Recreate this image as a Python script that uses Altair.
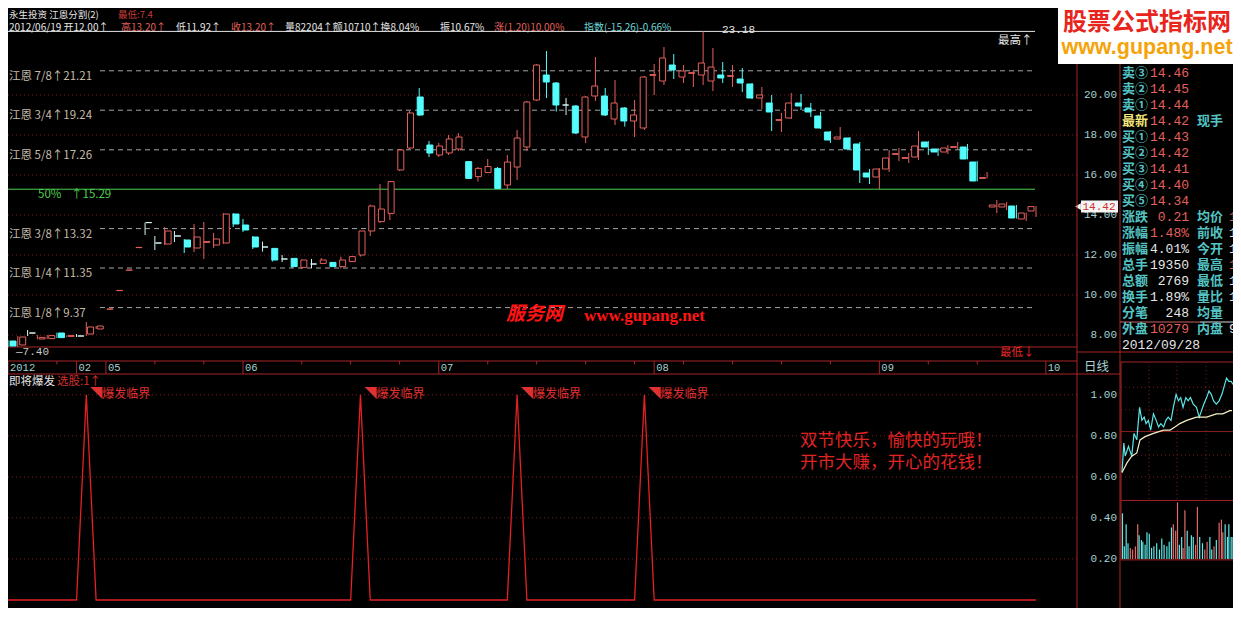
import altair as alt
import pandas as pd

# ---------------- data ----------------
OPEN = [7.70, 7.50, 8.10, 7.80, 7.82, 8.10, 7.93, 7.95, 8.05, 8.30,
        9.29, 10.22, 11.24, 12.37, 13.62, 12.60, 12.55, 12.95, 12.75, 12.35,
        12.63, 12.50, 12.60, 14.05, 13.50, 12.90, 12.40, 12.33, 11.80, 11.83,
        11.38, 11.55, 11.58, 11.63, 11.42, 11.67, 12.00, 13.20, 13.67, 14.08,
        16.25, 17.35, 19.90, 17.50, 17.00, 17.10, 17.30, 16.67, 15.92, 16.12,
        16.33, 15.50, 16.40, 17.40, 19.75, 21.00, 20.60, 19.50, 19.45, 17.90,
        19.95, 19.95, 18.80, 19.35, 18.70, 18.35, 20.98, 20.70, 21.50, 20.90,
        21.08, 21.00, 20.70, 21.00, 20.93, 20.80, 20.55, 19.85, 19.60, 18.73,
        18.85, 19.60, 19.35, 18.95, 18.15, 17.80, 17.85, 17.55, 16.10, 15.90,
        16.30, 17.03, 16.83, 16.90, 17.65, 17.30, 17.15, 17.38, 17.40, 16.65,
        15.83, 14.40, 14.40, 14.45, 13.80, 14.20]
HIGH = [7.75, 7.95, 8.25, 8.00, 8.00, 8.12, 7.98, 8.05, 8.65, 8.45,
        9.30, 10.23, 11.25, 12.38, 13.62, 12.95, 13.40, 13.20, 12.80, 13.55,
        13.65, 13.10, 14.10, 14.10, 13.80, 12.95, 12.67, 12.35, 12.00, 11.85,
        11.78, 11.80, 11.85, 11.65, 11.92, 11.95, 13.20, 14.52, 15.55, 15.70,
        17.30, 19.20, 20.35, 17.70, 17.60, 18.00, 18.10, 16.70, 16.40, 16.80,
        16.40, 17.00, 18.25, 19.70, 21.55, 22.20, 20.65, 19.85, 19.50, 19.95,
        21.90, 20.35, 20.75, 19.40, 19.75, 20.95, 21.55, 22.40, 22.05, 21.50,
        21.25, 23.18, 22.35, 21.65, 21.50, 21.35, 20.60, 20.40, 20.00, 19.10,
        20.10, 20.05, 19.60, 19.15, 18.20, 18.40, 17.90, 17.65, 16.30, 16.35,
        17.25, 17.35, 17.10, 18.20, 17.70, 17.35, 17.50, 17.65, 17.55, 16.70,
        16.15, 14.75, 14.65, 14.50, 14.12, 14.45]
LOW = [7.40, 7.40, 7.95, 7.78, 7.80, 7.85, 7.90, 7.90, 7.95, 8.30,
       9.29, 10.22, 11.24, 12.37, 13.00, 12.25, 12.50, 12.65, 12.10, 12.15,
       11.80, 12.35, 12.55, 13.40, 13.15, 12.30, 12.17, 11.67, 11.65, 11.35,
       11.30, 11.35, 11.55, 11.40, 11.33, 11.65, 11.92, 12.95, 13.60, 13.75,
       16.20, 17.30, 18.95, 16.90, 16.90, 17.00, 17.20, 15.80, 15.67, 16.10,
       15.30, 15.30, 15.75, 17.20, 19.70, 19.85, 19.17, 19.00, 18.05, 17.60,
       19.70, 18.95, 18.50, 18.42, 17.90, 18.25, 20.00, 20.50, 20.80, 20.60,
       20.40, 20.50, 20.20, 20.60, 20.40, 20.15, 19.80, 19.30, 18.20, 18.15,
       18.80, 19.25, 18.90, 18.30, 17.60, 17.78, 17.25, 15.60, 15.55, 15.30,
       16.15, 16.70, 16.60, 16.75, 17.00, 16.95, 17.05, 17.25, 16.78, 15.68,
       15.83, 14.10, 14.25, 13.82, 13.70, 13.90]
CLOSE = [7.45, 7.90, 8.10, 7.88, 7.97, 7.87, 7.97, 7.95, 8.40, 8.45,
         9.30, 10.23, 11.25, 12.38, 13.62, 12.60, 13.20, 12.95, 12.40, 12.90,
         12.67, 12.80, 14.05, 13.55, 13.25, 12.40, 12.40, 11.75, 11.80, 11.42,
         11.75, 11.55, 11.75, 11.42, 11.75, 11.92, 13.20, 14.45, 14.30, 15.67,
         17.25, 19.10, 19.00, 17.10, 17.45, 17.80, 17.90, 15.83, 16.33, 16.42,
         15.33, 16.65, 17.85, 19.65, 21.50, 20.65, 19.50, 19.50, 18.10, 19.90,
         20.45, 19.00, 19.60, 18.70, 19.00, 20.90, 21.02, 21.85, 21.25, 21.20,
         21.12, 21.60, 21.40, 20.85, 20.97, 20.60, 19.85, 20.00, 19.15, 18.77,
         19.60, 19.45, 19.15, 18.35, 17.75, 17.90, 17.30, 16.25, 15.90, 16.30,
         16.85, 17.07, 16.87, 17.45, 17.40, 17.15, 17.35, 17.42, 16.80, 15.70,
         15.87, 14.50, 14.55, 13.85, 14.10, 14.42]

GRID_PRICES = [8, 10, 12, 14, 16, 18, 20]
GANN_FRAC = ["7/8", "3/4", "5/8", "3/8", "1/4", "1/8"]
GANN_PRICE = [21.21, 19.24, 17.26, 13.32, 11.35, 9.37]
HALF_PRICE = 15.29
TOP_PRICE = 23.18
LOW_PRICE = 7.40
LAST_PRICE = 14.42

MONTH_IDX = [0, 7, 10, 24, 44, 66, 89, 106]
MONTH_LAB = ["2012", "02", "05", "06", "07", "08", "09", "10"]
MINOR_IDX = [5, 15, 20, 30, 35, 40, 49, 54, 59, 64, 69, 74, 79, 84, 94, 99]

PEAK_IDX = [8, 36, 52, 65]
IND_TICKS = [0.2, 0.4, 0.6, 0.8, 1.0]

INFO_L1 = ["卖③", "卖②", "卖①", "最新", "买①", "买②", "买③", "买④", "买⑤",
           "涨跌", "涨幅", "振幅", "总手", "总额", "换手", "分笔", "外盘"]
INFO_V1 = ["14.46", "14.45", "14.44", "14.42", "14.43", "14.42", "14.41", "14.40", "14.34",
           "0.21", "1.48%", "4.01%", "19350", "2769", "1.89%", "248", "10279"]
INFO_V1_SIGN = ["up"] * 11 + ["flat"] * 5 + ["up"]
INFO_L2 = ["", "", "", "现手", "", "", "", "", "", "均价", "前收", "今开", "最高", "最低", "量比", "均量", "内盘"]
INFO_V2 = ["", "", "", "", "", "", "", "", "", "14.37", "14.21", "14.25", "14.50", "13.98", "1.02", "", "9071"]
INFO_V2_SIGN = ["flat"] * 9 + ["up", "flat", "flat", "up", "flat", "flat", "flat", "flat"]
INFO_DATE = "2012/09/28"

MINI_T = [0, 4, 7, 14, 21, 26, 32, 38, 43, 48, 52, 57, 62, 68, 74, 79, 84, 90, 95, 100,
          106, 111, 117, 122, 127, 132, 138, 143, 148, 154, 161, 167, 172, 177, 183, 188,
          193, 198, 204, 210, 216, 220, 226, 231, 236, 240]
MINI_P = [14.21, 14.30, 14.26, 14.29, 14.26, 14.33, 14.31, 14.41, 14.37, 14.38,
          14.36, 14.37, 14.34, 14.39, 14.37, 14.35, 14.36, 14.35, 14.37, 14.38,
          14.37, 14.41, 14.45, 14.43, 14.44, 14.41, 14.44, 14.43, 14.44, 14.42,
          14.41, 14.38, 14.40, 14.42, 14.44, 14.46, 14.45, 14.43, 14.42, 14.43,
          14.45, 14.47, 14.50, 14.49, 14.49, 14.48]
AVG_T = [0, 11, 21, 32, 39, 50, 68, 90, 104, 115, 125, 140, 161, 183, 204, 218, 233, 238]
AVG_P = [14.21, 14.24, 14.26, 14.27, 14.31, 14.32, 14.33, 14.34, 14.34, 14.35,
         14.36, 14.37, 14.38, 14.38, 14.39, 14.39, 14.40, 14.40]
VOL_T = [1, 5, 9, 13, 18, 23, 29, 34, 37, 42, 45, 50, 54, 59, 64, 69, 75, 81, 86, 91,
         97, 102, 107, 111, 116, 120, 124, 129, 132, 136, 141, 145, 150, 154, 159, 163,
         168, 174, 179, 184, 190, 194, 199, 204, 210, 215, 218, 223, 228, 231, 236, 240]
VOL_V = [145, 40, 110, 50, 35, 30, 40, 110, 75, 60, 55, 45, 85, 80, 35, 40, 50, 30, 65, 45,
         40, 55, 100, 110, 90, 180, 45, 70, 35, 155, 90, 40, 75, 70, 45, 165, 70, 50, 30, 55,
         70, 30, 40, 60, 115, 125, 85, 110, 70, 110, 70, 70]
VOL_DIR = ["down"] * 4 + ["up"] * 4 + ["down"] * 15 + ["up"] * 3 + ["down"] * 2 + ["up"] * 2 + \
          ["down"] * 4 + ["up"] * 2 + ["down"] * 2 + ["up"] * 2 + ["down"] * 2 + ["up"] + ["down"] + \
          ["up"] * 3 + ["down"] * 5

# ---------------- layout helpers ----------------
W, H = 1225, 600
SPLIT_Y = 374.0


def px(X):
    return X - 8


def py(Y):
    # main area kept 1:1; lower panel squeezed slightly so everything fits the window
    if Y <= SPLIT_Y:
        return Y - 8
    return (SPLIT_Y - 8) + (Y - SPLIT_Y) * (H - (SPLIT_Y - 8)) / (622.0 - SPLIT_Y)


BG = "#000000"
UP = "#e4605c"
DN = "#54fcfc"
DOJI = "#d6f4f4"
RED = "#e82828"
DKRED = "#7a1a1a"
BORDER = "#a82424"
WHITE = "#e6e6e6"
LABC = "#55c4c4"
AXT = "#a6d2d2"
GANN_T = "#c6bba8"
GANN_L = "#a6a6a6"
GREEN = "#4fcf4f"
FONT = "Noto Sans CJK SC"
MONO = "Liberation Mono, Noto Sans CJK SC"
DIRS = ["up", "down", "flat"]


def S(domain, r0, r1):
    return alt.Scale(domain=domain, range=[r0, r1], nice=False, zero=False)


def SX():
    return S([0, 105], px(8), px(1036))


def SP():
    return S([8, 20], py(335), py(95))


def SI():
    return S([0, 1], py(613.5), py(396))


def SR():
    return S([0, 17], py(73), py(345))


def SMX():
    return S([0, 240], px(1122), px(1233))


def SMP():
    return S([14.21, 14.50], py(478.3), py(378.3))


def SMV():
    return S([0, 180], py(570), py(510))


ONE = pd.DataFrame({"k": [0]})


def hrule(Y, X1, X2, color, width=1, dash=None):
    kw = dict(color=color, strokeWidth=width)
    if dash:
        kw["strokeDash"] = dash
    return alt.Chart(ONE).mark_rule(**kw).encode(
        x=alt.value(px(X1)), x2=alt.value(px(X2)), y=alt.value(py(Y)))


def vrule(X, Y1, Y2, color, width=1, dash=None):
    kw = dict(color=color, strokeWidth=width)
    if dash:
        kw["strokeDash"] = dash
    return alt.Chart(ONE).mark_rule(**kw).encode(
        x=alt.value(px(X)), y=alt.value(py(Y1)), y2=alt.value(py(Y2)))


def txt(s, X, Y, color, size=11.5, align="left", font=FONT, weight="normal", style="normal"):
    return alt.Chart(pd.DataFrame({"t": [s]})).mark_text(
        align=align, baseline="middle", color=color, fontSize=size, font=font,
        fontWeight=weight, fontStyle=style).encode(
        x=alt.value(px(X)), y=alt.value(py(Y)), text="t:N")


layers = []

# ---------------- header ----------------
layers += [
    txt("永生投资 江恩分割(2)", 9, 15, WHITE, 9.5),
    txt("最低:7.4", 118, 15, "#c83a3a", 9.5),
]
HEAD2 = [("2012/06/19 开12.00↑", WHITE, 9), ("高13.20↑", UP, 121), ("低11.92↑", WHITE, 176),
         ("收13.20↑", UP, 231), ("量82204↑额10710↑换8.04%", WHITE, 285), ("振10.67%", WHITE, 440),
         ("涨(1.20)10.00%", UP, 494), ("指数(-15.26)-0.66%", "#6cd8d8", 584)]
for s, c, X in HEAD2:
    layers.append(txt(s, X, 27.5, c, 10))

# ---------------- main panel grid / gann lines ----------------
gp = pd.DataFrame({"p": GRID_PRICES})
layers.append(alt.Chart(gp).mark_rule(color=DKRED, strokeDash=[1, 3]).encode(
    y=alt.Y("p:Q", scale=SP(), axis=None), x=alt.value(0), x2=alt.value(px(1077))))

gdf = pd.DataFrame({"p": GANN_PRICE,
                    "lab": ["江恩 %s↑%.2f" % (f, p) for f, p in zip(GANN_FRAC, GANN_PRICE)]})
layers.append(alt.Chart(gdf).mark_rule(color=GANN_L, strokeDash=[5, 4]).encode(
    y=alt.Y("p:Q", scale=SP(), axis=None), x=alt.value(px(100)), x2=alt.value(px(1035))))
layers.append(alt.Chart(gdf).mark_text(align="left", baseline="middle", dy=6, font=FONT,
                                       fontSize=11.5, color=GANN_T).encode(
    y=alt.Y("p:Q", scale=SP(), axis=None), x=alt.value(px(9)), text="lab:N"))

hdf = pd.DataFrame({"p": [HALF_PRICE], "a": ["50%"], "b": ["↑%.2f" % HALF_PRICE]})
layers.append(alt.Chart(hdf).mark_rule(color=GREEN).encode(
    y=alt.Y("p:Q", scale=SP(), axis=None), x=alt.value(px(8)), x2=alt.value(px(1035))))
layers.append(alt.Chart(hdf).mark_text(align="left", baseline="middle", dy=6, font=FONT,
                                       fontSize=11.5, color=GREEN).encode(
    y=alt.Y("p:Q", scale=SP(), axis=None), x=alt.value(px(38)), text="a:N"))
layers.append(alt.Chart(hdf).mark_text(align="left", baseline="middle", dy=6, font=FONT,
                                       fontSize=11.5, color=GREEN).encode(
    y=alt.Y("p:Q", scale=SP(), axis=None), x=alt.value(px(71)), text="b:N"))

# highest / lowest lines
tdf = pd.DataFrame({"p": [TOP_PRICE], "t": ["%.2f" % TOP_PRICE]})
layers.append(alt.Chart(tdf).mark_rule(color=WHITE).encode(
    y=alt.Y("p:Q", scale=SP(), axis=None), x=alt.value(px(8)), x2=alt.value(px(1035))))
layers.append(alt.Chart(tdf).mark_text(align="left", baseline="middle", font=MONO, fontSize=11,
                                       color=WHITE, dy=-1).encode(
    y=alt.Y("p:Q", scale=SP(), axis=None), x=alt.value(px(722)), text="t:N"))
ldf = pd.DataFrame({"p": [LOW_PRICE], "t": ["—%.2f" % LOW_PRICE]})
layers.append(alt.Chart(ldf).mark_rule(color=BORDER, strokeWidth=1.2).encode(
    y=alt.Y("p:Q", scale=SP(), axis=None), x=alt.value(0), x2=alt.value(px(1077))))
layers.append(alt.Chart(ldf).mark_text(align="left", baseline="middle", font=MONO, fontSize=11,
                                       color="#c8c8c8", dy=5).encode(
    y=alt.Y("p:Q", scale=SP(), axis=None), x=alt.value(px(16)), text="t:N"))
layers += [txt("最高↑", 998, 41, WHITE, 11.5), txt("最低↓", 1000, 353, RED, 11.5)]

# ---------------- candles ----------------
cdf = pd.DataFrame({"i": list(range(len(OPEN))), "o": OPEN, "h": HIGH, "l": LOW, "c": CLOSE})
cdf["d"] = ["up" if c > o else ("down" if c < o else "flat") for o, c in zip(OPEN, CLOSE)]
layers.append(alt.Chart(cdf).mark_rule(strokeWidth=1).encode(
    x=alt.X("i:Q", scale=SX(), axis=None),
    y=alt.Y("l:Q", scale=SP(), axis=None), y2="h:Q",
    color=alt.Color("d:N", scale=alt.Scale(domain=DIRS, range=[UP, DN, DOJI]), legend=None)))
layers.append(alt.Chart(cdf).mark_bar(size=6, strokeWidth=1).encode(
    x=alt.X("i:Q", scale=SX(), axis=None),
    y=alt.Y("o:Q", scale=SP(), axis=None), y2="c:Q",
    fill=alt.Fill("d:N", scale=alt.Scale(domain=DIRS, range=[BG, DN, BG]), legend=None),
    stroke=alt.Stroke("d:N", scale=alt.Scale(domain=DIRS, range=[UP, DN, DOJI]), legend=None)))

# centre watermark
layers += [txt("服务网", 506, 314, "#ff1414", 19, weight="bold", style="italic"),
           txt("www.gupang.net", 584, 316, "#ff1414", 17, font="Liberation Serif", weight="bold")]

# ---------------- price axis ----------------
adf = pd.DataFrame({"p": GRID_PRICES, "t": ["%.2f" % p for p in GRID_PRICES]})
layers.append(alt.Chart(adf).mark_text(align="right", baseline="middle", font=MONO, fontSize=11,
                                       color=AXT).encode(
    y=alt.Y("p:Q", scale=SP(), axis=None), x=alt.value(px(1117)), text="t:N"))
lp = pd.DataFrame({"p": [LAST_PRICE + 0.3], "p2": [LAST_PRICE - 0.3], "q": [LAST_PRICE],
                   "t": ["%.2f" % LAST_PRICE]})
layers.append(alt.Chart(lp).mark_rect(color="#f4f4f4").encode(
    y=alt.Y("p:Q", scale=SP(), axis=None), y2="p2:Q", x=alt.value(px(1081)), x2=alt.value(px(1118))))
layers.append(alt.Chart(lp).mark_point(shape="triangle-left", filled=True, color="#f4f4f4",
                                       size=45, opacity=1).encode(
    y=alt.Y("q:Q", scale=SP(), axis=None), x=alt.value(px(1078))))
layers.append(alt.Chart(lp).mark_text(align="center", baseline="middle", font=MONO, fontSize=11,
                                      color="#d03030").encode(
    y=alt.Y("q:Q", scale=SP(), axis=None), x=alt.value(px(1099)), text="t:N"))

# ---------------- date strip ----------------
layers += [hrule(361, 0, 1077, BORDER), hrule(374, 0, 1120, BORDER)]
mdf = pd.DataFrame({"i": MONTH_IDX, "t": MONTH_LAB})
layers.append(alt.Chart(mdf).mark_rule(color=BORDER).encode(
    x=alt.X("i:Q", scale=SX(), axis=None), y=alt.value(py(361)), y2=alt.value(py(374))))
layers.append(alt.Chart(mdf).mark_text(align="left", baseline="middle", dx=2, font=MONO,
                                       fontSize=10.5, color=AXT).encode(
    x=alt.X("i:Q", scale=SX(), axis=None), y=alt.value(py(367.5)), text="t:N"))
ndf = pd.DataFrame({"i": MINOR_IDX})
layers.append(alt.Chart(ndf).mark_rule(color=BORDER).encode(
    x=alt.X("i:Q", scale=SX(), axis=None), y=alt.value(py(361)), y2=alt.value(py(364.5))))

# ---------------- indicator panel ----------------
layers += [txt("即将爆发", 9, 383, WHITE, 11.5), txt("选股:1↑", 57, 383, "#d03030", 11.5)]
idf = pd.DataFrame({"v": IND_TICKS, "t": ["%.2f" % v for v in IND_TICKS]})
layers.append(alt.Chart(idf).mark_rule(color=DKRED, strokeDash=[1, 3]).encode(
    y=alt.Y("v:Q", scale=SI(), axis=None), x=alt.value(0), x2=alt.value(px(1077))))
layers.append(alt.Chart(idf).mark_text(align="right", baseline="middle", font=MONO, fontSize=11,
                                       color=AXT).encode(
    y=alt.Y("v:Q", scale=SI(), axis=None), x=alt.value(px(1117)), text="t:N"))
ind = pd.DataFrame({"i": list(range(len(OPEN))),
                    "v": [1 if i in PEAK_IDX else 0 for i in range(len(OPEN))]})
layers.append(alt.Chart(ind).mark_line(color="#e42020", strokeWidth=1.3).encode(
    x=alt.X("i:Q", scale=SX(), axis=None), y=alt.Y("v:Q", scale=SI(), axis=None)))
pk = pd.DataFrame({"i": PEAK_IDX, "v": [1] * len(PEAK_IDX), "t": ["◥爆发临界"] * len(PEAK_IDX)})
layers.append(alt.Chart(pk).mark_text(align="left", baseline="middle", dx=4, dy=-1, font=FONT,
                                      fontSize=12, color="#e03030").encode(
    x=alt.X("i:Q", scale=SX(), axis=None), y=alt.Y("v:Q", scale=SI(), axis=None), text="t:N"))
layers += [txt("双节快乐，愉快的玩哦！", 800, 445, "#e02424", 17.5),
           txt("开市大赚，开心的花钱！", 800, 468, "#e02424", 17.5)]

# ---------------- right side frame ----------------
layers += [vrule(1077, 64, 622, BORDER), vrule(1120, 64, 622, BORDER),
           hrule(352, 1077, 1241, BORDER), hrule(322, 1120, 1200, "#c86060"),
           hrule(322, 1200, 1241, "#d8d8d8"), txt("日线", 1084, 367, AXT, 12.5)]

# info panel
rows = pd.DataFrame({"r": list(range(len(INFO_L1))), "l1": INFO_L1, "v1": INFO_V1,
                     "s1": INFO_V1_SIGN, "l2": INFO_L2, "v2": INFO_V2, "s2": INFO_V2_SIGN})
rows["k"] = ["latest" if s == "最新" else "lab" for s in INFO_L1]
layers.append(alt.Chart(rows).mark_text(align="left", baseline="middle", font=FONT, fontSize=13,
                                        fontWeight="bold").encode(
    y=alt.Y("r:Q", scale=SR(), axis=None), x=alt.value(px(1122)), text="l1:N",
    color=alt.Color("k:N", scale=alt.Scale(domain=["lab", "latest"], range=[LABC, "#f4e87a"]),
                    legend=None)))
layers.append(alt.Chart(rows).mark_text(align="right", baseline="middle", font=MONO,
                                        fontSize=13).encode(
    y=alt.Y("r:Q", scale=SR(), axis=None), x=alt.value(px(1189)), text="v1:N",
    color=alt.Color("s1:N", scale=alt.Scale(domain=["up", "flat"], range=[UP, WHITE]),
                    legend=None)))
layers.append(alt.Chart(rows).mark_text(align="left", baseline="middle", font=FONT, fontSize=13,
                                        fontWeight="bold", color=LABC).encode(
    y=alt.Y("r:Q", scale=SR(), axis=None), x=alt.value(px(1197)), text="l2:N"))
layers.append(alt.Chart(rows).mark_text(align="left", baseline="middle", font=MONO,
                                        fontSize=13).encode(
    y=alt.Y("r:Q", scale=SR(), axis=None), x=alt.value(px(1229)), text="v2:N",
    color=alt.Color("s2:N", scale=alt.Scale(domain=["up", "flat"], range=[UP, WHITE]),
                    legend=None)))
layers.append(txt(INFO_DATE, 1122, 345, WHITE, 13, font=MONO))

# mini intraday chart
layers.append(alt.Chart(ONE).mark_rect(fillOpacity=0, stroke=BORDER, strokeWidth=1).encode(
    x=alt.value(px(1121)), x2=alt.value(px(1237)), y=alt.value(py(362)), y2=alt.value(py(571))))
layers += [hrule(435, 1121, 1237, "#8a2020"), hrule(508, 1121, 1237, BORDER)]
for X in (1149, 1177, 1206):
    layers.append(vrule(X, 362, 508, DKRED, dash=[1, 3]))
for Y in (388, 412, 460, 483):
    layers.append(hrule(Y, 1121, 1237, DKRED, dash=[1, 3]))
vdf = pd.DataFrame({"t": VOL_T, "v": VOL_V, "z": [0] * len(VOL_T), "d": VOL_DIR})
layers.append(alt.Chart(vdf).mark_rule(strokeWidth=1.2).encode(
    x=alt.X("t:Q", scale=SMX(), axis=None), y=alt.Y("v:Q", scale=SMV(), axis=None), y2="z:Q",
    color=alt.Color("d:N", scale=alt.Scale(domain=["up", "down"], range=["#e06a6a", "#5fe8e8"]),
                    legend=None)))
layers.append(alt.Chart(pd.DataFrame({"t": MINI_T, "p": MINI_P})).mark_line(
    color="#5ce6e6", strokeWidth=1.2).encode(
    x=alt.X("t:Q", scale=SMX(), axis=None), y=alt.Y("p:Q", scale=SMP(), axis=None)))
layers.append(alt.Chart(pd.DataFrame({"t": AVG_T, "p": AVG_P})).mark_line(
    color="#f4f0c4", strokeWidth=1.2).encode(
    x=alt.X("t:Q", scale=SMX(), axis=None), y=alt.Y("p:Q", scale=SMP(), axis=None)))

# top-right logo box
layers.append(alt.Chart(ONE).mark_rect(color="#ffffff").encode(
    x=alt.value(px(1058)), x2=alt.value(px(1237)), y=alt.value(0), y2=alt.value(py(64))))
layers += [txt("股票公式指标网", 1147, 23, "#e8251c", 24, align="center", weight="bold"),
           txt("www.gupang.net", 1147, 48, "#f5a30a", 21.5, align="center",
               font="Liberation Sans", weight="bold")]

chart = alt.layer(*layers).resolve_scale(
    x="independent", y="independent", color="independent", fill="independent",
    stroke="independent").properties(
    width=W, height=H, background=BG, padding=0, autosize="none").configure_view(
    strokeWidth=0)

chart.save("out.html", embed_options={"renderer": "svg", "actions": False})
